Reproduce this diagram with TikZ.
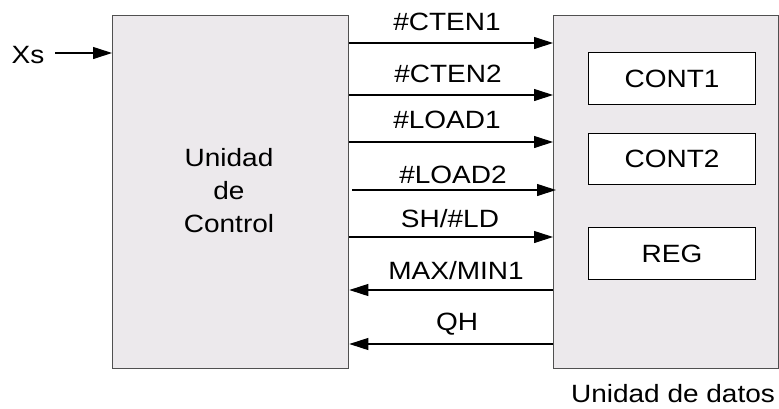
\documentclass[tikz,border=0pt]{standalone}
\usepackage{fontspec}
\setmainfont{Liberation Sans}[FakeStretch=1.12]
\usetikzlibrary{arrows.meta}
\definecolor{boxfill}{HTML}{ECE9EC}
\definecolor{boxline}{HTML}{505050}
\begin{document}
\begin{tikzpicture}[x=1pt,y=-1pt,
  unit/.style={draw=boxline, fill=boxfill, line width=1.3pt, inner sep=0pt, anchor=north west},
  reg/.style={draw=black, fill=white, line width=1.1pt, inner sep=0pt, anchor=north west, minimum width=167pt, minimum height=52pt},
  sig/.style={line width=1.1pt, -{Triangle[length=19pt,width=12pt]}},
  lbl/.style={font=\fontsize{25}{33}\selectfont, inner sep=0pt, anchor=base},
  txt/.style={font=\fontsize{25}{33}\selectfont, inner sep=0pt}]
\useasboundingbox (0,0) rectangle (779,408);
% blocks
\node[unit, minimum width=236pt, minimum height=353pt] (cu) at (112,15) {};
\node[unit, minimum width=225pt, minimum height=353pt] (dp) at (553,15) {};
\node[reg] (c1) at (588,52) {};
\node[reg, minimum height=51pt] (c2) at (588,133) {};
\node[reg] (rg) at (588,227) {};
\node[txt] at (c1.center) {CONT1};
\node[txt] at (c2.center) {CONT2};
\node[txt] at (rg.center) {REG};
\node[txt, align=center] (cut) at (229,191) {Unidad\\de\\Control};
\node[lbl] (dpt) at (673,402) {Unidad de datos};
% input
\node[lbl] (xs) at (28,63) {Xs};
\coordinate (xs0) at (55,53);
\draw[sig] (xs0) -- (cu.west |- xs0);
% signals
\foreach \yy/\nm in {43/a,95/b,142/c,237/e}{
  \coordinate (s\nm) at (348,\yy);
  \draw[sig] (cu.east |- s\nm) -- (dp.west |- s\nm);
}
\coordinate (sd) at (352,190);
\draw[sig] (sd) -- (556,190);
\coordinate (sf) at (553,290);
\coordinate (sg) at (553,344);
\draw[sig] (dp.west |- sf) -- (cu.east |- sf);
\draw[sig] (dp.west |- sg) -- (cu.east |- sg);
% labels
\node[lbl] at (447,30) {\#CTEN1};
\node[lbl] at (448,82) {\#CTEN2};
\node[lbl] at (447,128) {\#LOAD1};
\node[lbl] at (453,183) {\#LOAD2};
\node[lbl] at (450,227) {SH/\#LD};
\node[lbl] at (456,279) {MAX/MIN1};
\node[lbl] at (457,330) {QH};
\end{tikzpicture}
\end{document}
